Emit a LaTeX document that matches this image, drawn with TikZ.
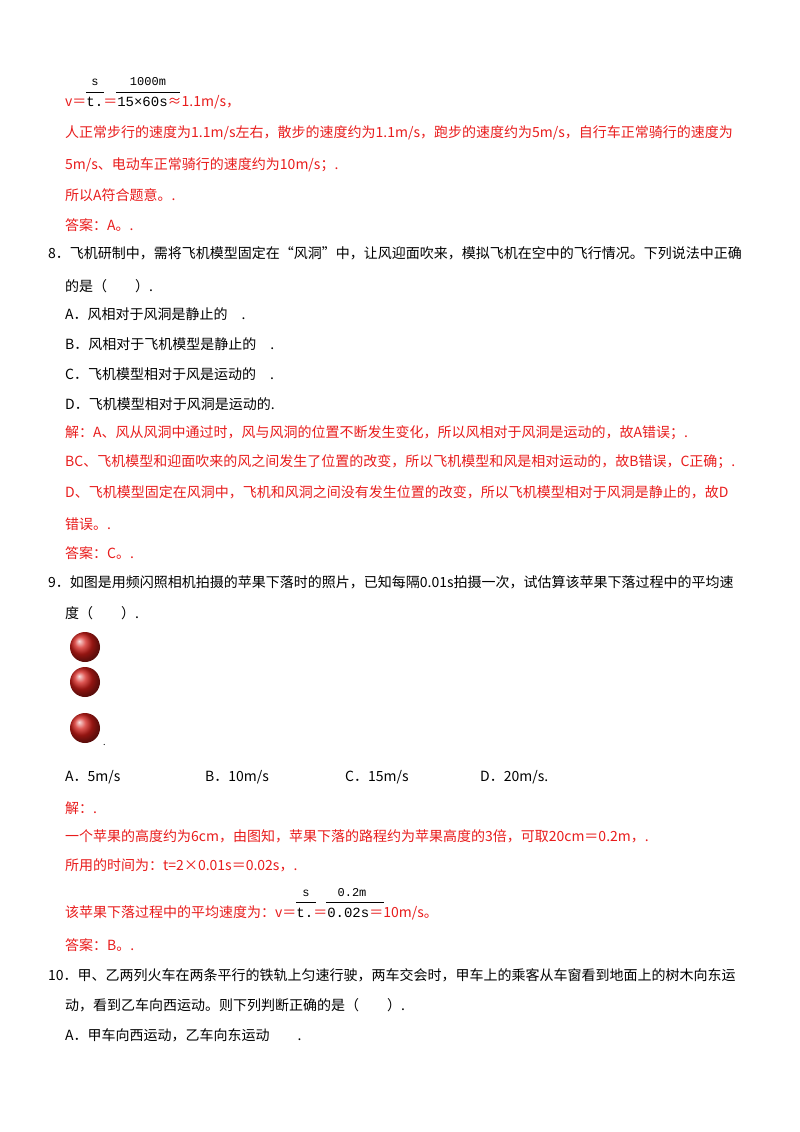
\documentclass[tikz,border=0pt]{standalone}
\usepackage{fontspec}
\setmainfont{Noto Sans CJK SC}
\newfontfamily\lat{Liberation Serif}
\newfontfamily\mono{Liberation Mono}
\usepackage{tikz}
\usetikzlibrary{positioning,calc}
\definecolor{ansred}{RGB}{232,28,28}
\definecolor{apple}{RGB}{210,30,25}

\begin{document}
\begin{tikzpicture}[x=1pt,y=1pt,
  txt/.style={anchor=west, inner sep=0, font=\fontsize{14}{16}\selectfont},
  sol/.style={txt, text=ansred},
  frac/.style={inner sep=1, font=\mono\fontsize{12}{14}\selectfont, text=black},
  fruit/.style={circle, minimum size=30, inner sep=0, shading=ball, ball color=apple}]
\useasboundingbox (0,0) rectangle (800,-1132);
% speed of walking
\node[frac] (n1) at (95,-82) {s};
\node[frac] (n2) at (148,-82) {1000m};
\draw (86,-92) -- (104,-92);
\draw (116,-92) -- (180,-92);
\node[sol] (v1) at (65,-102) {v＝\textcolor{black}{\mono t.}＝\textcolor{black}{\mono 15×60s}≈1.1m/s，};
\node[sol] (l1) at (65,-133) {人正常步行的速度为1.1m/s左右，散步的速度约为1.1m/s，跑步的速度约为5m/s，自行车正常骑行的速度为};
\node[sol] (l2) at (65,-165) {5m/s、电动车正常骑行的速度约为10m/s；.};
\node[sol] (l3) at (65,-195) {所以A符合题意。.};
\node[sol] (l4) at (65,-225) {答案：A。.};
% question 8
\node[txt] (q8) at (48,-253) {8．飞机研制中，需将飞机模型固定在“风洞”中，让风迎面吹来，模拟飞机在空中的飞行情况。下列说法中正确};
\node[txt] (q8b) at (65,-286) {的是（　　）.};
\node[txt] (q8A) at (65,-314) {A．风相对于风洞是静止的　.};
\node[txt] (q8B) at (65,-344) {B．风相对于飞机模型是静止的　.};
\node[txt] (q8C) at (65,-374) {C．飞机模型相对于风是运动的　.};
\node[txt] (q8D) at (65,-404) {D．飞机模型相对于风洞是运动的.};
\node[sol] (s8a) at (65,-433) {解：A、风从风洞中通过时，风与风洞的位置不断发生变化，所以风相对于风洞是运动的，故A错误；.};
\node[sol] (s8b) at (65,-462) {BC、飞机模型和迎面吹来的风之间发生了位置的改变，所以飞机模型和风是相对运动的，故B错误，C正确；.};
\node[sol] (s8c) at (65,-492) {D、飞机模型固定在风洞中，飞机和风洞之间没有发生位置的改变，所以飞机模型相对于风洞是静止的，故D};
\node[sol] (s8d) at (65,-524) {错误。.};
\node[sol] (s8e) at (65,-553) {答案：C。.};
% question 9
\node[txt] (q9) at (48,-582) {9．如图是用频闪照相机拍摄的苹果下落时的照片，已知每隔0.01s拍摄一次，试估算该苹果下落过程中的平均速};
\node[txt] (q9b) at (65,-613) {度（　　）.};
\node[fruit] (ap1) at (85,-647) {};
\node[fruit] (ap2) at (85,-682) {};
\node[fruit] (ap3) at (85,-728) {};
\node[txt, font=\fontsize{9}{10}\selectfont] (dot) at (103,-745) {.};
\node[txt] (q9A) at (65,-777) {A．5m/s};
\node[txt] (q9B) at (205,-777) {B．10m/s};
\node[txt] (q9C) at (345,-777) {C．15m/s};
\node[txt] (q9D) at (480,-777) {D．20m/s.};
\node[sol] (s9a) at (65,-808) {解：.};
\node[sol] (s9b) at (65,-836) {一个苹果的高度约为6cm，由图知，苹果下落的路程约为苹果高度的3倍，可取20cm＝0.2m，.};
\node[sol] (s9c) at (65,-865) {所用的时间为：t=2×0.01s＝0.02s，.};
\node[frac] (n3) at (306,-893) {s};
\node[frac] (n4) at (352,-893) {0.2m};
\draw (296,-902) -- (316,-902);
\draw (326,-902) -- (384,-902);
\node[sol] (s9d) at (65,-913) {该苹果下落过程中的平均速度为：v＝\textcolor{black}{\mono t.}＝\textcolor{black}{\mono 0.02s}＝10m/s。};
\node[sol] (s9e) at (65,-945) {答案：B。.};
% question 10
\node[txt] (q10) at (48,-975) {10．甲、乙两列火车在两条平行的铁轨上匀速行驶，两车交会时，甲车上的乘客从车窗看到地面上的树木向东运};
\node[txt] (q10b) at (65,-1005) {动，看到乙车向西运动。则下列判断正确的是（　　）.};
\node[txt] (q10A) at (65,-1035) {A．甲车向西运动，乙车向东运动　　.};
\end{tikzpicture}
\end{document}
